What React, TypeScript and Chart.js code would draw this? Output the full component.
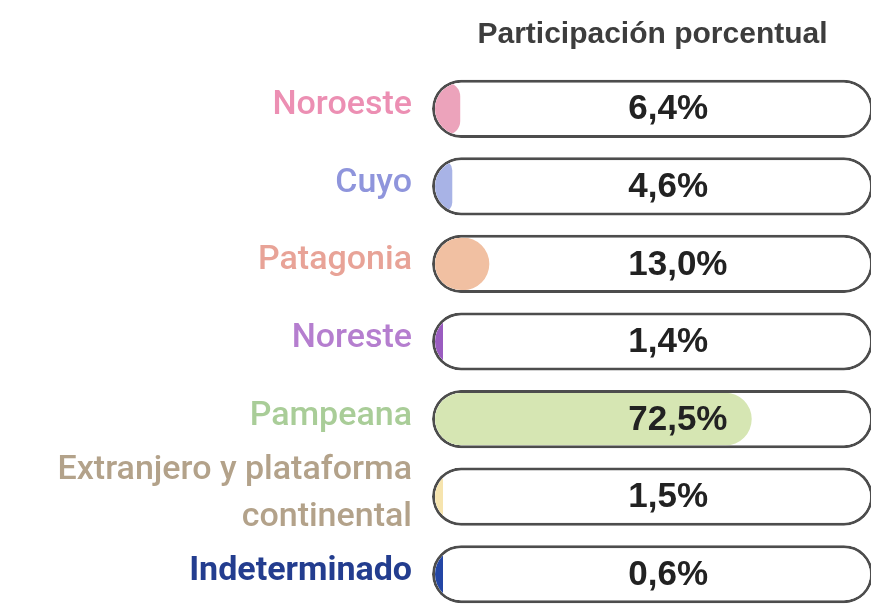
import React, { useEffect, useRef } from "react";
import { Chart, registerables } from "chart.js";

Chart.register(...registerables);

// ---- data ----
const categories: (string | string[])[] = [
  "Noroeste",
  "Cuyo",
  "Patagonia",
  "Noreste",
  "Pampeana",
  ["Extranjero y plataforma", "continental"],
  "Indeterminado",
];
const shares = [6.4, 4.6, 13.0, 1.4, 72.5, 1.5, 0.6];
const totalShare = 100;
const titleText = "Participación porcentual";

// ---- styles ----
const labelColors = ["#ec8fb3", "#8f95dc", "#e8a397", "#b57ecf", "#a9cd98", "#b3a28a", "#233d8f"];
const fillColors = ["#eca3bb", "#a8b3e6", "#f1c0a2", "#9a5cc0", "#d6e6b3", "#f6e4ae", "#2346a5"];
const FONT = "'Liberation Sans', Arial, sans-serif";
const LABEL_FONT = "Roboto, 'Liberation Sans', Arial, sans-serif";
const TRACK_BORDER = 3;

const fmt = (v: number) => v.toFixed(1).replace(".", ",") + "%";

const clipToTrack = {
  id: "clipToTrack",
  beforeDatasetDraw(chart: any, args: any) {
    if (args.index !== 1) return;
    const ctx = chart.ctx;
    const trackMeta = chart.getDatasetMeta(0);
    ctx.save();
    ctx.beginPath();
    trackMeta.data.forEach((el: any) => {
      const p = el.getProps(["x", "y", "base", "height"], true);
      const left = Math.min(p.base, p.x) + TRACK_BORDER;
      const right = Math.max(p.base, p.x) - TRACK_BORDER;
      const top = p.y - p.height / 2 + TRACK_BORDER;
      const h = p.height - 2 * TRACK_BORDER;
      ctx.roundRect(left, top, right - left, h, h / 2);
    });
    ctx.clip();
  },
  afterDatasetDraw(chart: any, args: any) {
    if (args.index !== 1) return;
    chart.ctx.restore();
  },
};

const valueLabels = {
  id: "valueLabels",
  afterDatasetsDraw(chart: any) {
    const ctx = chart.ctx;
    const meta = chart.getDatasetMeta(0);
    const xs = chart.scales.x;
    ctx.save();
    ctx.font = `bold 35px ${FONT}`;
    ctx.fillStyle = "#222222";
    ctx.textAlign = "left";
    ctx.textBaseline = "middle";
    meta.data.forEach((el: any, i: number) => {
      ctx.fillText(fmt(shares[i]), xs.getPixelForValue(44.5), el.y + 1);
    });
    ctx.restore();
  },
};

export default function App() {
  const ref = useRef<HTMLCanvasElement | null>(null);

  useEffect(() => {
    if (!ref.current) return;
    const chart = new Chart(ref.current, {
      type: "bar",
      data: {
        labels: categories as any,
        datasets: [
          {
            label: "total",
            data: categories.map(() => totalShare),
            backgroundColor: "#ffffff",
            borderColor: "#4d4d4d",
            borderWidth: TRACK_BORDER,
            borderRadius: 40,
            borderSkipped: false,
            barPercentage: 0.75,
            categoryPercentage: 1,
            grouped: false,
            order: 2,
          },
          {
            label: "Participación",
            data: shares,
            backgroundColor: fillColors,
            borderWidth: 0,
            borderRadius: 30,
            borderSkipped: false,
            minBarLength: 11,
            barPercentage: 0.68,
            categoryPercentage: 1,
            grouped: false,
            order: 1,
          },
        ],
      },
      options: {
        indexAxis: "y",
        responsive: false,
        animation: false,
        events: [],
        layout: { padding: { left: 0, right: 3, top: 0, bottom: 0 } },
        scales: {
          x: {
            display: false,
            min: 0,
            max: 100,
          },
          y: {
            grid: { display: false, drawTicks: false },
            border: { display: false },
            ticks: {
              autoSkip: false,
              padding: 20,
              labelOffset: -3,
              color: (c: any) => labelColors[c.index],
              font: (c: any) => ({
                family: LABEL_FONT,
                size: 34,
                weight: c.index === 6 ? "bold" : "500",
                lineHeight: 1.38,
              }),
            },
            afterFit: (scale: any) => {
              scale.width = 432;
              scale.paddingTop = 0;
              scale.paddingBottom = 0;
            },
          },
        },
        plugins: {
          legend: { display: false },
          tooltip: { enabled: false },
          title: {
            display: true,
            text: titleText,
            fullSize: false,
            color: "#3d3d3d",
            font: { family: FONT, size: 30, weight: "bold", lineHeight: 1.2 },
            padding: { top: 17, bottom: 17 },
          },
        },
      },
      plugins: [clipToTrack, valueLabels],
    });
    return () => chart.destroy();
  }, []);

  return (
    <div
      style={{
        position: "fixed",
        left: 0,
        top: 0,
        width: 871,
        height: 605,
        overflow: "hidden",
        background: "#ffffff",
      }}
    >
      <canvas ref={ref} width={876} height={613} style={{ display: "block" }} />
    </div>
  );
}
